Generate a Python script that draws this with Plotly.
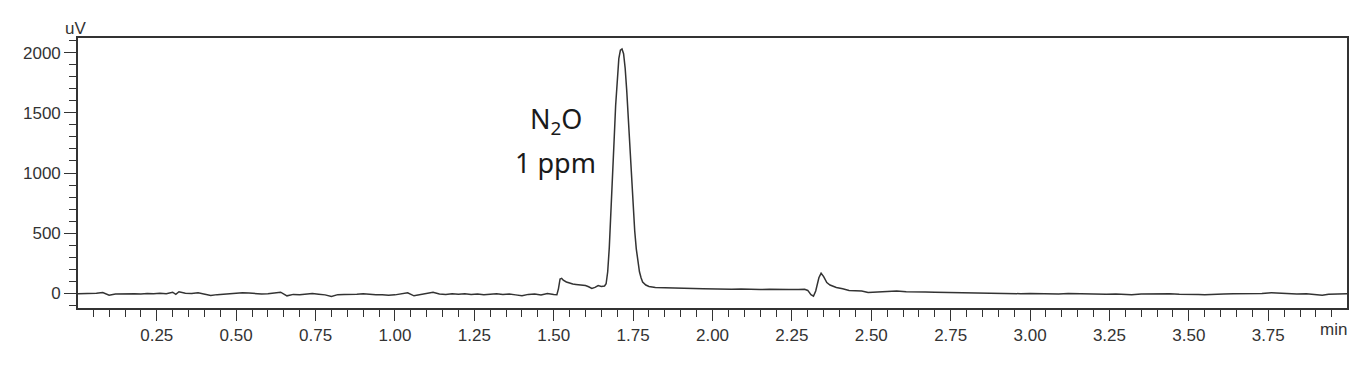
import plotly.graph_objects as go

# Retention time (min) and detector signal (uV)
time_min = [
    0.00, 0.02, 0.04, 0.06, 0.08, 0.10, 0.12, 0.14, 0.16, 0.18,
    0.20, 0.22, 0.24, 0.26, 0.28, 0.30, 0.31, 0.32, 0.34, 0.36,
    0.38, 0.40, 0.42, 0.44, 0.46, 0.48, 0.50, 0.52, 0.54, 0.56,
    0.58, 0.60, 0.62, 0.64, 0.66, 0.68, 0.70, 0.72, 0.74, 0.76,
    0.78, 0.80, 0.82, 0.84, 0.86, 0.88, 0.90, 0.92, 0.94, 0.96,
    0.98, 1.00, 1.02, 1.04, 1.06, 1.08, 1.10, 1.12, 1.14, 1.16,
    1.18, 1.20, 1.22, 1.24, 1.26, 1.28, 1.30, 1.32, 1.34, 1.36,
    1.38, 1.40, 1.42, 1.44, 1.46, 1.48, 1.50, 1.51, 1.515, 1.52,
    1.525, 1.53, 1.54, 1.55, 1.56, 1.57, 1.58, 1.59, 1.60, 1.61,
    1.62, 1.63, 1.64, 1.65, 1.66, 1.665, 1.670, 1.675, 1.680, 1.685,
    1.690, 1.695, 1.700, 1.705, 1.710, 1.715, 1.720, 1.725, 1.730, 1.735,
    1.740, 1.745, 1.750, 1.755, 1.760, 1.765, 1.770, 1.775, 1.780, 1.790,
    1.800, 1.820, 1.850, 1.880, 1.910, 1.940, 1.970, 2.000, 2.030, 2.060,
    2.090, 2.120, 2.150, 2.180, 2.210, 2.240, 2.270, 2.290, 2.300, 2.310,
    2.318, 2.325, 2.335, 2.342, 2.350, 2.360, 2.370, 2.380, 2.390, 2.410,
    2.430, 2.450, 2.470, 2.490, 2.520, 2.550, 2.580, 2.610, 2.640, 2.670,
    2.700, 2.730, 2.760, 2.790, 2.820, 2.850, 2.880, 2.910, 2.940, 2.970,
    3.000, 3.030, 3.060, 3.090, 3.120, 3.150, 3.180, 3.210, 3.240, 3.270,
    3.300, 3.320, 3.350, 3.380, 3.410, 3.440, 3.470, 3.500, 3.530, 3.550,
    3.580, 3.610, 3.640, 3.670, 3.700, 3.730, 3.760, 3.780, 3.810, 3.840,
    3.870, 3.900, 3.920, 3.940, 3.970, 4.000,
]
signal_uv = [
    -2, 0, -3, 2, 8, -15, -5, -3, -5, -2,
    -4, 0, -3, 2, -2, 10, -8, 14, 2, 0,
    5, -4, -17, -10, -6, -4, 2, 6, 3, -2,
    -4, -3, 2, 10, -20, -8, -10, -2, 0, -6,
    -12, -25, -10, -8, -4, -6, -3, -8, -12, -10,
    -15, -12, -5, 6, -20, -10, -6, 10, -4, -8,
    -3, -6, -2, -8, -5, -10, -6, -3, -9, -5,
    -12, -20, -8, -4, -12, 0, -8, -10, 40, 120,
    125, 110, 95, 85, 78, 75, 72, 70, 65, 55,
    42, 50, 65, 58, 62, 80, 180, 380, 640, 950,
    1260, 1560, 1800, 1950, 2020, 2030, 1990, 1870, 1680, 1450,
    1200, 950, 720, 520, 370, 260, 180, 130, 95, 70,
    58, 50, 46, 44, 43, 40, 38, 36, 38, 35,
    37, 33, 32, 34, 30, 32, 33, 34, 25, -10,
    -22, 20, 130, 168, 140, 90, 70, 60, 50, 38,
    25, 22, 20, 8, 10, 15, 20, 14, 16, 12,
    10, 8, 6, 5, 3, 4, 2, 0, -6, -2,
    0, -3, -1, -4, 0, -2, -5, -3, -6, -4,
    -8, -12, -4, -2, -4, -3, -6, -4, -8, -12,
    -6, -4, -3, -2, -4, 0, 6, 2, -2, -4,
    -2, -12, -16, -6, -3, -2,
]

x_tick_values = [0.25, 0.50, 0.75, 1.00, 1.25, 1.50, 1.75, 2.00, 2.25,
                 2.50, 2.75, 3.00, 3.25, 3.50, 3.75]
x_tick_labels = ["0.25", "0.50", "0.75", "1.00", "1.25", "1.50", "1.75", "2.00",
                 "2.25", "2.50", "2.75", "3.00", "3.25", "3.50", "3.75"]
y_tick_values = [0, 500, 1000, 1500, 2000]

peak_label_formula = "N<sub>2</sub>O"
peak_label_conc = "1 ppm"
peak_label_x = 1.507
peak_label_y1 = 1435
peak_label_y2 = 1089

axis_color = "#333333"
tick_font = dict(family="Liberation Sans, Arial, sans-serif", size=17, color="#333333")

fig = go.Figure()
fig.add_trace(go.Scatter(
    x=time_min, y=signal_uv, mode="lines",
    line=dict(color="#333333", width=1.5),
    hoverinfo="x+y", showlegend=False,
))

fig.update_xaxes(
    range=[0.002, 3.998],
    showline=True, linecolor=axis_color, linewidth=1.6, mirror=True,
    showgrid=False, zeroline=False,
    ticks="outside", ticklen=11, tickwidth=1.4, tickcolor=axis_color,
    tickvals=x_tick_values, ticktext=x_tick_labels,
    tickfont=tick_font,
    minor=dict(ticks="outside", ticklen=7, tickwidth=1.4, tickcolor=axis_color,
               tick0=0, dtick=0.05, showgrid=False),
)
fig.update_yaxes(
    range=[-121, 2121],
    showline=True, linecolor=axis_color, linewidth=1.6, mirror=True,
    showgrid=False, zeroline=False,
    ticks="outside", ticklen=12, tickwidth=1.4, tickcolor=axis_color,
    tickvals=y_tick_values,
    tickfont=tick_font,
    minor=dict(ticks="outside", ticklen=7, tickwidth=1.4, tickcolor=axis_color,
               tick0=0, dtick=100, showgrid=False),
)

label_font = dict(family="Noto Sans, Lato, sans-serif", size=27, color="#1a1a1a")
fig.add_annotation(x=peak_label_x, y=peak_label_y1, text=peak_label_formula,
                   showarrow=False, font=label_font, xanchor="center", yanchor="middle")
fig.add_annotation(x=peak_label_x, y=peak_label_y2, text=peak_label_conc,
                   showarrow=False, font=label_font, xanchor="center", yanchor="middle")
fig.add_annotation(xref="paper", yref="paper", x=-0.002, y=1.0, yshift=10,
                   text="uV", showarrow=False, font=tick_font,
                   xanchor="center", yanchor="middle")
fig.add_annotation(xref="paper", yref="paper", x=0.989, y=0.0, yshift=-21,
                   text="min", showarrow=False, font=tick_font,
                   xanchor="center", yanchor="middle")

fig.update_layout(
    width=1355, height=349,
    margin=dict(l=70, r=16, t=30, b=41),
    paper_bgcolor="white", plot_bgcolor="white",
)

fig.write_html("out.html")
